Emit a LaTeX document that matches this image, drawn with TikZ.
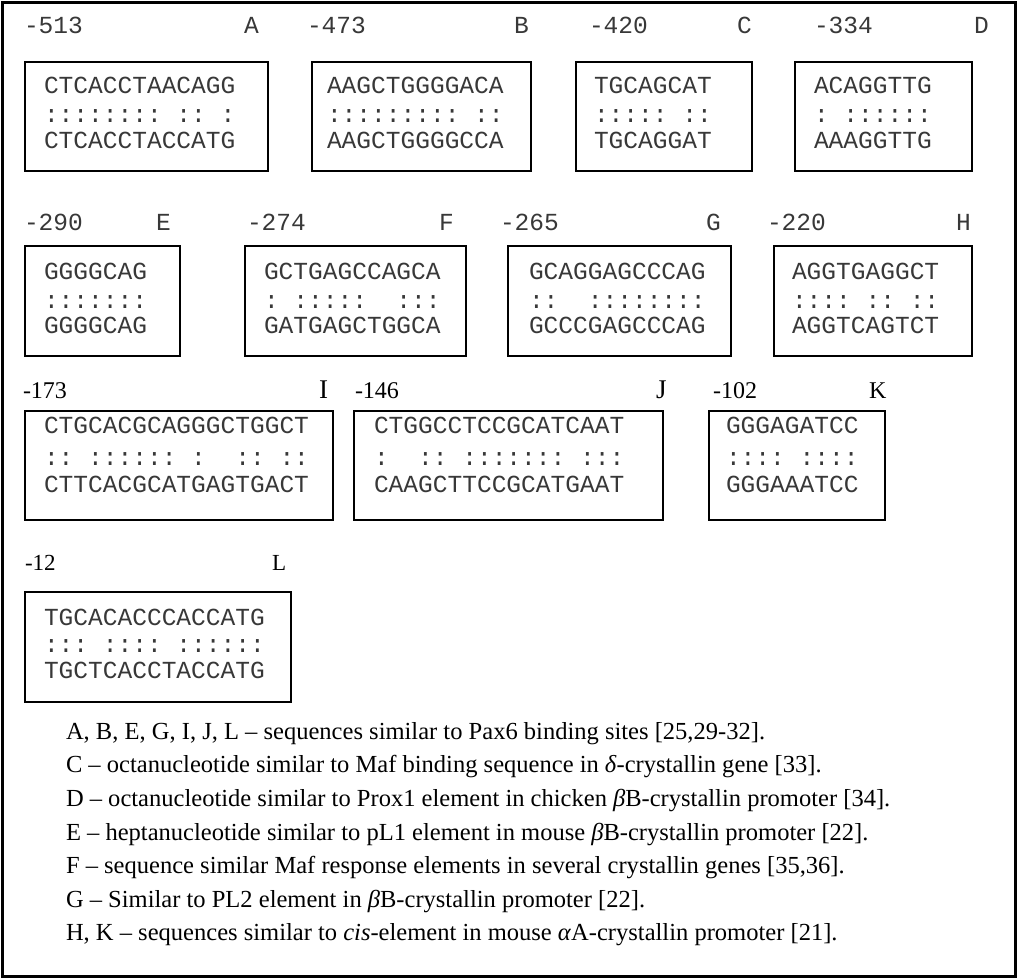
\documentclass[tikz,border=0pt]{standalone}
\usepackage{fontspec}
\setmainfont{Liberation Serif}
\newfontfamily\cour{Liberation Mono}
\usetikzlibrary{fit}
\newcommand\seqblock[9]{%
  \node[seqbox, fit={(#2,#3)(#4,#5)}] (box#1) {};
  \node[seq] (top#1) at (#6,#3+\oa) {#7};
  \node[seq] (mid#1) at (#6,#3+\ob) {#8};
  \node[seq] (bot#1) at (#6,#3+\oc) {#9};
}
\begin{document}
\begin{tikzpicture}[x=0.75pt,y=-0.75pt,
  seqbox/.style={draw=black, line width=1.5pt, inner sep=0pt, outer sep=0pt},
  seq/.style={anchor=base west, inner sep=0pt, outer sep=0pt, text=black!78,
    font=\cour\fontsize{18.4pt}{20pt}\selectfont\frenchspacing},
  tlab/.style={anchor=base west, inner sep=0pt, outer sep=0pt,
    font=\fontsize{18pt}{20pt}\selectfont},
  tbig/.style={anchor=base west, inner sep=0pt, outer sep=0pt,
    font=\fontsize{20.25pt}{22pt}\selectfont},
  tsmall/.style={anchor=base west, inner sep=0pt, outer sep=0pt,
    font=\fontsize{17.25pt}{19pt}\selectfont},
  legend/.style={anchor=base west, inner sep=0pt, outer sep=0pt,
    font=\fontsize{18.4pt}{20pt}\selectfont}]
\useasboundingbox (0,0) rectangle (1019,979);
\node[draw=black, line width=2.25pt, inner sep=0pt, outer sep=0pt, fit={(2,2)(1015.5,976)}] (frame) {};
% row 1
\def\oa{31}\def\ob{60}\def\oc{86}
\seqblock{A}{25}{62}{268}{171}{44}{CTCACCTAACAGG}{::::::::\ ::\ :}{CTCACCTACCATG}
\seqblock{B}{312}{62}{531}{171}{327}{AAGCTGGGGACA}{:::::::::\ ::}{AAGCTGGGGCCA}
\seqblock{C}{576}{62}{752}{171}{594}{TGCAGCAT}{:::::\ ::}{TGCAGGAT}
\seqblock{D}{795}{62}{972}{171}{814}{ACAGGTTG}{:\ ::::::}{AAAGGTTG}
\node[seq] (nA) at (24,33) {-513};
\node[seq] (lA) at (244,33) {A};
\node[seq] (nB) at (307,33) {-473};
\node[seq] (lB) at (514,33) {B};
\node[seq] (nC) at (589,33) {-420};
\node[seq] (lC) at (737,33) {C};
\node[seq] (nD) at (814,33) {-334};
\node[seq] (lD) at (974,33) {D};
% row 2
\def\oa{33}\def\ob{62}\def\oc{87}
\seqblock{E}{25}{246}{180}{356}{44}{GGGGCAG}{:::::::}{GGGGCAG}
\seqblock{F}{245}{246}{466}{356}{264}{GCTGAGCCAGCA}{:\ :::::\ \ :::}{GATGAGCTGGCA}
\seqblock{G}{508}{246}{731}{356}{529}{GCAGGAGCCCAG}{::\ \ ::::::::}{GCCCGAGCCCAG}
\seqblock{H}{774}{246}{972}{356}{792}{AGGTGAGGCT}{::::\ ::\ ::}{AGGTCAGTCT}
\node[seq] (nE) at (24,230) {-290};
\node[seq] (lE) at (156,230) {E};
\node[seq] (nF) at (247,230) {-274};
\node[seq] (lF) at (439,230) {F};
\node[seq] (nG) at (500,230) {-265};
\node[seq] (lG) at (706,230) {G};
\node[seq] (nH) at (767,230) {-220};
\node[seq] (lH) at (956,230) {H};
% row 3
\def\oa{22}\def\ob{54}\def\oc{81}
\seqblock{I}{25}{411}{333}{520}{44}{CTGCACGCAGGGCTGGCT}{::\ ::::::\ :\ \ ::\ ::}{CTTCACGCATGAGTGACT}
\seqblock{J}{354}{411}{663}{520}{374}{CTGGCCTCCGCATCAAT}{:\ \ ::\ :::::::\ :::}{CAAGCTTCCGCATGAAT}
\seqblock{K}{709}{411}{885}{520}{726}{GGGAGATCC}{::::\ ::::}{GGGAAATCC}
\node[tlab] (nI) at (23,398) {-173};
\node[tbig] (lI) at (319,398) {I};
\node[tlab] (nJ) at (355,398) {-146};
\node[tbig] (lJ) at (656,398) {J};
\node[tlab] (nK) at (713,398) {-102};
\node[tlab] (lK) at (869,398) {K};
% row 4
\def\oa{33}\def\ob{60}\def\oc{86}
\seqblock{L}{25}{592}{291}{702}{44}{TGCACACCCACCATG}{:::\ ::::\ ::::::}{TGCTCACCTACCATG}
\node[tsmall] (nL) at (25,570) {-12};
\node[tsmall] (lL) at (272,570) {L};
% legend
\node[legend] (g1) at (66,739) {A, B, E, G, I, J, L -- sequences similar to Pax6 binding sites [25,29-32].};
\node[legend] (g2) at (66,772) {C -- octanucleotide similar to Maf binding sequence in \textit{δ}-crystallin gene [33].};
\node[legend] (g3) at (66,806) {D -- octanucleotide similar to Prox1 element in chicken \textit{β}B-crystallin promoter [34].};
\node[legend] (g4) at (66,840) {E -- heptanucleotide similar to pL1 element in mouse \textit{β}B-crystallin promoter [22].};
\node[legend] (g5) at (66,873) {F -- sequence similar Maf response elements in several crystallin genes [35,36].};
\node[legend] (g6) at (66,907) {G -- Similar to PL2 element in \textit{β}B-crystallin promoter [22].};
\node[legend] (g7) at (66,940) {H, K -- sequences similar to \textit{cis}-element in mouse \textit{α}A-crystallin promoter [21].};
\end{tikzpicture}
\end{document}
